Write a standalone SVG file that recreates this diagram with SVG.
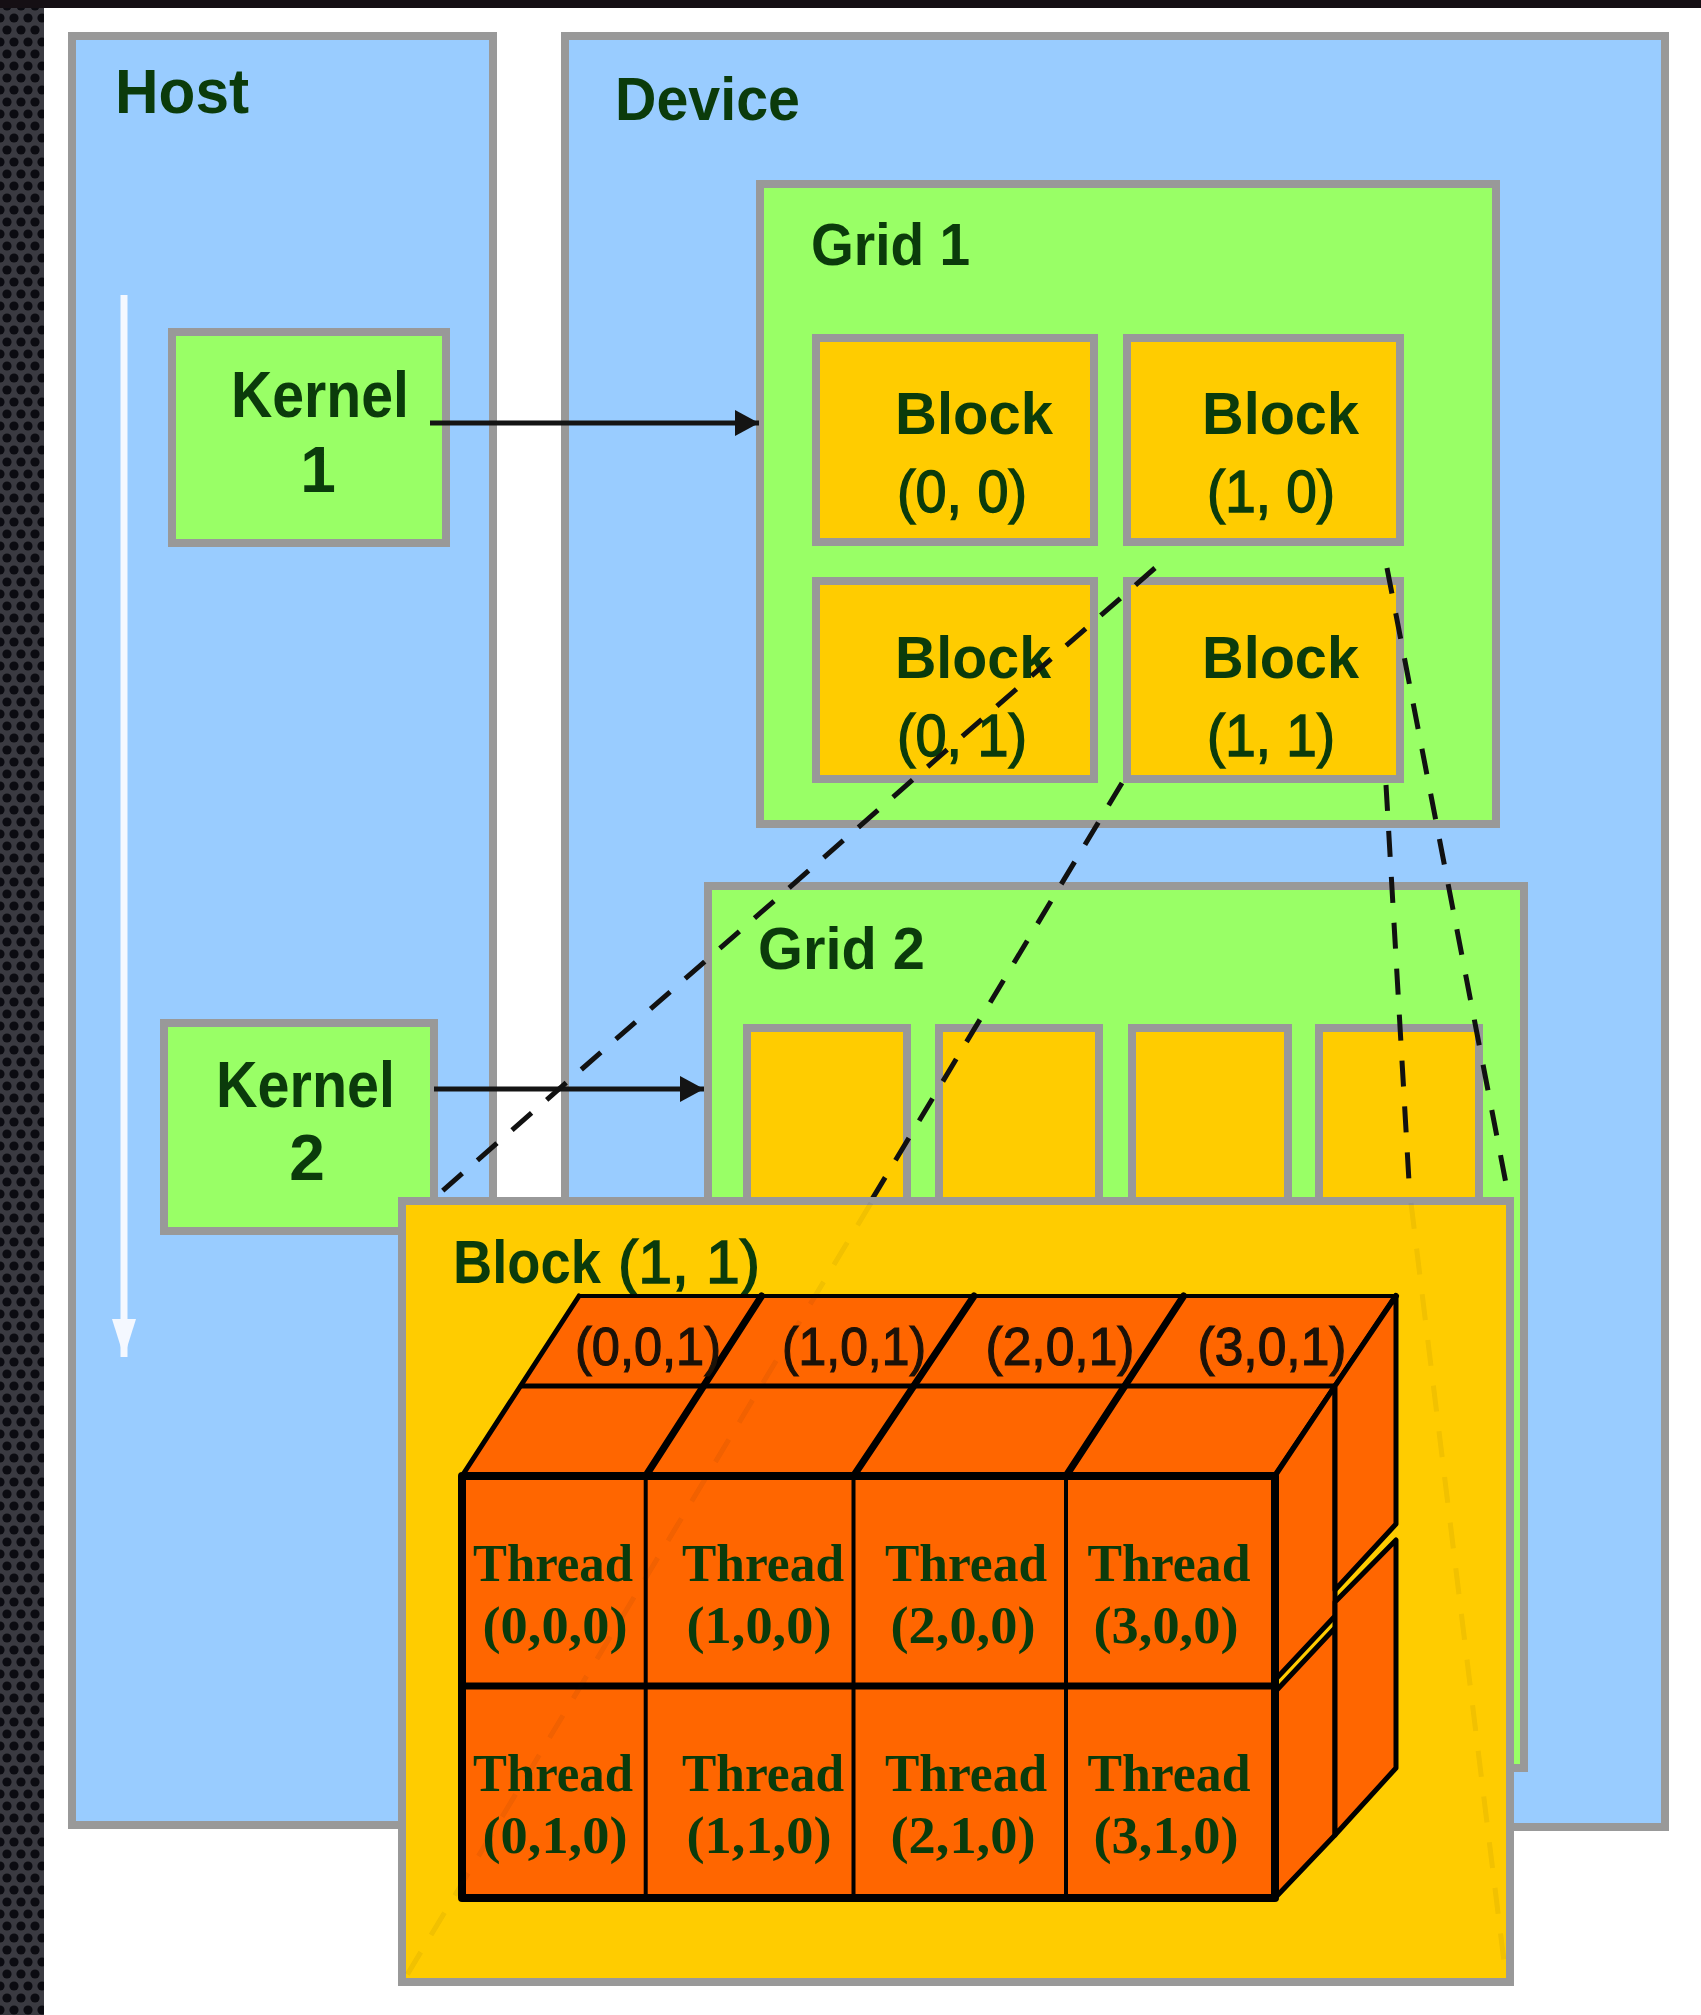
<svg xmlns="http://www.w3.org/2000/svg" width="1701" height="2015" viewBox="0 0 1701 2015">
  <defs>
    <pattern id="mesh" width="14" height="24" patternUnits="userSpaceOnUse">
      <rect width="14" height="24" fill="#3a3a41"/>
      <circle cx="7" cy="6" r="4.6" fill="#0b0b11"/>
      <circle cx="0" cy="18" r="4.6" fill="#0b0b11"/>
      <circle cx="14" cy="18" r="4.6" fill="#0b0b11"/>
    </pattern>
    <marker id="head" viewBox="0 0 24 26" refX="24" refY="13" markerWidth="24" markerHeight="26" markerUnits="userSpaceOnUse" orient="auto">
      <path d="M0,0 L24,13 L0,26 Z" fill="#141414"/>
    </marker>
    <marker id="head-white" viewBox="0 0 38 24" refX="38" refY="12" markerWidth="38" markerHeight="24" markerUnits="userSpaceOnUse" orient="auto">
      <path d="M0,0 L38,12 L0,24 Z" fill="#f4f8ff"/>
    </marker>
    <style>
      .panel { fill: #99ccff; stroke: #999999; stroke-width: 8; }
      .green { fill: #99ff66; stroke: #999999; stroke-width: 8; }
      .block { fill: #ffcc00; stroke: #999999; stroke-width: 8; }
      .lbl { font-family: "Liberation Sans", Arial, sans-serif; font-weight: bold; fill: #0b3b0b; }
      .num { font-family: "Liberation Sans", Arial, sans-serif; font-weight: normal; fill: #0b3b0b; stroke: #0b3b0b; stroke-width: 1.5; }
      .thr { font-family: "Liberation Serif", "Times New Roman", serif; font-weight: bold; fill: #0b3b0b; font-size: 52px; text-anchor: middle; }
      .top { font-family: "Liberation Sans", Arial, sans-serif; fill: #1c1208; stroke: #1c1208; stroke-width: 1.2; font-size: 53px; text-anchor: middle; }
      .dash { fill: none; stroke: #111111; stroke-width: 5; stroke-dasharray: 26 20; }
      .arrow { fill: none; stroke: #141414; stroke-width: 5; }
      .face { fill: #ff6600; stroke: #000000; stroke-linejoin: round; }
      .edge { fill: none; stroke: #000000; stroke-linecap: round; }
    </style>
  </defs>

  <!-- page background and dark frame strips -->
  <rect x="0" y="0" width="1701" height="2015" fill="#ffffff"/>
  <rect x="0" y="0" width="44" height="2015" fill="url(#mesh)"/>
  <rect x="0" y="0" width="1701" height="8" fill="#150f14"/>

  <!-- host side -->
  <g id="host">
    <rect class="panel" x="72" y="36" width="421" height="1789"/>
    <text class="lbl" x="115" y="113" font-size="63" textLength="134" lengthAdjust="spacingAndGlyphs">Host</text>
    <line x1="124" y1="295" x2="124" y2="1357" stroke="#f4f8ff" stroke-width="7" marker-end="url(#head-white)"/>
  </g>

  <!-- device side -->
  <g id="device">
    <rect class="panel" x="565" y="36" width="1100" height="1791"/>
    <text class="lbl" x="615" y="120" font-size="62" textLength="185" lengthAdjust="spacingAndGlyphs">Device</text>
  </g>

  <g id="kernel1">
    <rect class="green" x="172" y="332" width="274" height="211"/>
    <text class="lbl" x="231" y="417" font-size="64" textLength="178" lengthAdjust="spacingAndGlyphs">Kernel</text>
    <text class="lbl" x="318" y="492" font-size="64" text-anchor="middle">1</text>
  </g>

  <g id="kernel2">
    <rect class="green" x="164" y="1023" width="270" height="208"/>
    <text class="lbl" x="216" y="1107" font-size="64" textLength="179" lengthAdjust="spacingAndGlyphs">Kernel</text>
    <text class="lbl" x="307" y="1180" font-size="64" text-anchor="middle">2</text>
  </g>

  <g id="grid1">
    <rect class="green" x="760" y="184" width="736" height="640"/>
    <text class="lbl" x="811" y="265" font-size="60" textLength="159" lengthAdjust="spacingAndGlyphs">Grid 1</text>
    <g id="grid1-block-0-0">
      <rect class="block" x="816" y="338" width="278" height="204"/>
      <text class="lbl" x="895" y="434" font-size="60" textLength="158" lengthAdjust="spacingAndGlyphs">Block</text>
      <text class="num" x="897" y="512" font-size="60" textLength="130" lengthAdjust="spacingAndGlyphs">(0, 0)</text>
    </g>
    <g id="grid1-block-1-0">
      <rect class="block" x="1127" y="338" width="273" height="204"/>
      <text class="lbl" x="1202" y="434" font-size="60" textLength="157" lengthAdjust="spacingAndGlyphs">Block</text>
      <text class="num" x="1207" y="512" font-size="60" textLength="128" lengthAdjust="spacingAndGlyphs">(1, 0)</text>
    </g>
    <g id="grid1-block-0-1">
      <rect class="block" x="816" y="581" width="278" height="198"/>
      <text class="lbl" x="895" y="678" font-size="60" textLength="156" lengthAdjust="spacingAndGlyphs">Block</text>
      <text class="num" x="897" y="756" font-size="60" textLength="130" lengthAdjust="spacingAndGlyphs">(0, 1)</text>
    </g>
    <g id="grid1-block-1-1">
      <rect class="block" x="1127" y="581" width="273" height="198"/>
      <text class="lbl" x="1202" y="678" font-size="60" textLength="157" lengthAdjust="spacingAndGlyphs">Block</text>
      <text class="num" x="1207" y="756" font-size="60" textLength="128" lengthAdjust="spacingAndGlyphs">(1, 1)</text>
    </g>
  </g>

  <g id="grid2">
    <rect class="green" x="708" y="886" width="816" height="882"/>
    <text class="lbl" x="758" y="969" font-size="60" textLength="167" lengthAdjust="spacingAndGlyphs">Grid 2</text>
    <rect class="block" x="747" y="1028" width="160" height="700"/>
    <rect class="block" x="939" y="1028" width="160" height="700"/>
    <rect class="block" x="1132" y="1028" width="156" height="700"/>
    <rect class="block" x="1319" y="1028" width="160" height="700"/>
  </g>

  <!-- launches and the block expansion guides -->
  <g id="connectors">
    <line class="arrow" x1="430" y1="423" x2="759" y2="423" marker-end="url(#head)"/>
    <line class="arrow" x1="434" y1="1089" x2="704" y2="1089" marker-end="url(#head)"/>
    <path class="dash" d="M1155,568 L440,1193"/>
    <path class="dash" d="M1122,783 L402,1982"/>
    <path class="dash" d="M1387,568 L1509,1199"/>
    <path class="dash" d="M1386,785 L1410,1199"/>
  </g>

  <!-- expanded Block (1, 1) with its threads -->
  <g id="block-1-1-detail">
    <rect class="block" x="402" y="1201" width="1108" height="781"/>
    <text class="lbl" x="453" y="1283" font-size="61"><tspan textLength="148" lengthAdjust="spacingAndGlyphs">Block</tspan><tspan class="num" x="618" textLength="142" lengthAdjust="spacingAndGlyphs">(1, 1)</tspan></text>

    <g id="thread-cube">
      <!-- top face -->
      <polygon class="face" points="462,1476 1275,1476 1396,1296 579,1296" stroke="none"/>
      <path class="edge" d="M579,1296 H1396" stroke-width="4"/>
      <path class="edge" d="M521,1386 H1335" stroke-width="5"/>
      <path class="edge" d="M462,1476 L579,1296" stroke-width="5"/>
      <path class="edge" d="M645.7,1476 L761.6,1296 M853.5,1476 L974,1296 M1066,1476 L1183.6,1296" stroke-width="7"/>
      <path class="edge" d="M1275,1476 L1396,1296" stroke-width="6"/>

      <!-- right face -->
      <polygon class="face" stroke-width="5" points="1275,1476 1335,1386 1335,1616 1275,1680"/>
      <polygon class="face" stroke-width="5" points="1275,1692 1335,1628 1335,1835 1275,1898"/>
      <polygon class="face" stroke-width="5" points="1335,1386 1396,1296 1396,1524 1335,1590"/>
      <polygon class="face" stroke-width="5" points="1335,1602 1396,1540 1396,1768 1335,1835"/>

      <!-- front face -->
      <rect class="face" x="462" y="1476" width="813" height="422" stroke-width="8"/>
      <path class="edge" d="M645.7,1476 V1898 M853.5,1476 V1898 M1066,1476 V1898" stroke-width="4"/>
      <path class="edge" d="M462,1686 H1275" stroke-width="7"/>

      <!-- back-row labels on the top face -->
      <text class="top" x="648" y="1365" textLength="146" lengthAdjust="spacingAndGlyphs">(0,0,1)</text>
      <text class="top" x="854" y="1365" textLength="144" lengthAdjust="spacingAndGlyphs">(1,0,1)</text>
      <text class="top" x="1060" y="1365" textLength="149" lengthAdjust="spacingAndGlyphs">(2,0,1)</text>
      <text class="top" x="1272" y="1365" textLength="149" lengthAdjust="spacingAndGlyphs">(3,0,1)</text>

      <!-- front-face thread labels -->
      <g id="thread-0-0-0"><text class="thr" x="553" y="1581" textLength="160" lengthAdjust="spacingAndGlyphs">Thread</text><text class="thr" x="555" y="1643" textLength="145" lengthAdjust="spacingAndGlyphs">(0,0,0)</text></g>
      <g id="thread-1-0-0"><text class="thr" x="763" y="1581" textLength="162" lengthAdjust="spacingAndGlyphs">Thread</text><text class="thr" x="759" y="1643" textLength="145" lengthAdjust="spacingAndGlyphs">(1,0,0)</text></g>
      <g id="thread-2-0-0"><text class="thr" x="966" y="1581" textLength="162" lengthAdjust="spacingAndGlyphs">Thread</text><text class="thr" x="963" y="1643" textLength="145" lengthAdjust="spacingAndGlyphs">(2,0,0)</text></g>
      <g id="thread-3-0-0"><text class="thr" x="1169" y="1581" textLength="163" lengthAdjust="spacingAndGlyphs">Thread</text><text class="thr" x="1166" y="1643" textLength="145" lengthAdjust="spacingAndGlyphs">(3,0,0)</text></g>
      <g id="thread-0-1-0"><text class="thr" x="553" y="1791" textLength="160" lengthAdjust="spacingAndGlyphs">Thread</text><text class="thr" x="555" y="1853" textLength="145" lengthAdjust="spacingAndGlyphs">(0,1,0)</text></g>
      <g id="thread-1-1-0"><text class="thr" x="763" y="1791" textLength="162" lengthAdjust="spacingAndGlyphs">Thread</text><text class="thr" x="759" y="1853" textLength="145" lengthAdjust="spacingAndGlyphs">(1,1,0)</text></g>
      <g id="thread-2-1-0"><text class="thr" x="966" y="1791" textLength="162" lengthAdjust="spacingAndGlyphs">Thread</text><text class="thr" x="963" y="1853" textLength="145" lengthAdjust="spacingAndGlyphs">(2,1,0)</text></g>
      <g id="thread-3-1-0"><text class="thr" x="1169" y="1791" textLength="163" lengthAdjust="spacingAndGlyphs">Thread</text><text class="thr" x="1166" y="1853" textLength="145" lengthAdjust="spacingAndGlyphs">(3,1,0)</text></g>
    </g>
  </g>

  <!-- guide lines faintly showing through the expanded block -->
  <g id="connectors-through" opacity="0.06">
    <path class="dash" d="M871,1203 L404,1980" stroke-width="3" stroke-dasharray="10 30"/>
    <path class="dash" d="M1411,1203 L1506,1978" stroke-width="3" stroke-dasharray="10 30"/>
  </g>
</svg>
